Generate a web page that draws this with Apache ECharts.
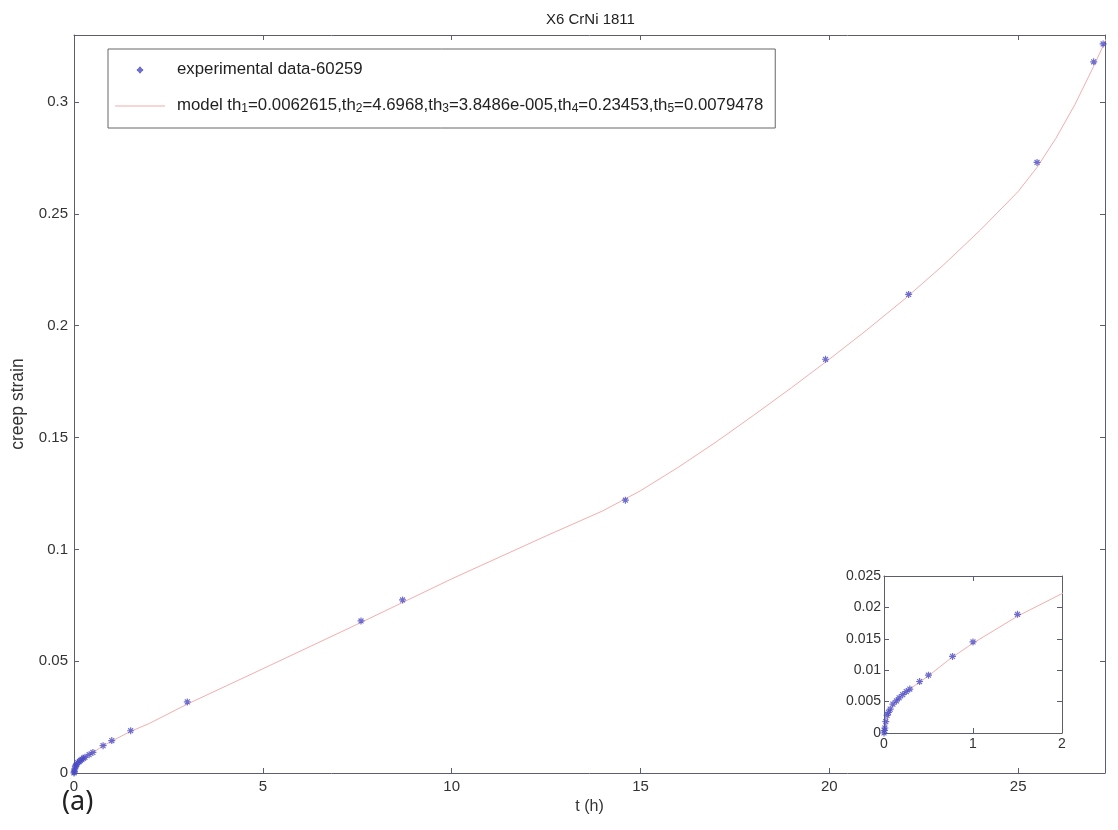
<!DOCTYPE html>
<html>
<head>
<meta charset="utf-8">
<script src="https://cdn.jsdelivr.net/npm/echarts@6/dist/echarts.min.js"></script>
<style>html,body{margin:0;padding:0;background:#fff}#c{width:1118px;height:830px}</style>
</head>
<body>
<div id="c"></div>
<script>
// experimental data
const tData = [0, 0.005, 0.01, 0.02, 0.035, 0.05, 0.07, 0.1, 0.14, 0.17, 0.21, 0.25, 0.29, 0.4, 0.5, 0.77, 1.0, 1.5, 3.0, 7.6, 8.7, 14.6, 19.9, 22.1, 25.5, 27.0, 27.25];
const strainData = [0, 0.0004, 0.0008, 0.0018, 0.0028, 0.0033, 0.0038, 0.0046, 0.0051, 0.0056, 0.0061, 0.0066, 0.0070, 0.0082, 0.0092, 0.0122, 0.0145, 0.0189, 0.0318, 0.068, 0.0774, 0.122, 0.185, 0.214, 0.273, 0.318, 0.326];
// model curve
const tModel = [0, 0.01, 0.025, 0.05, 0.1, 0.15, 0.2, 0.3, 0.4, 0.5, 0.75, 1, 1.5, 2, 3, 5, 7.5, 10, 12.5, 14, 15, 16, 17, 18, 19, 20, 21, 22, 23, 24, 25, 25.5, 26, 26.5, 27, 27.3, 27.5];
const strainModel = [0, 0.0005, 0.0015, 0.0028, 0.0044, 0.0053, 0.0060, 0.0071, 0.0081, 0.0091, 0.0119, 0.0143, 0.0186, 0.0222, 0.0308, 0.0466, 0.0665, 0.0868, 0.1060, 0.1172, 0.1262, 0.1367, 0.1480, 0.1600, 0.1723, 0.1850, 0.1982, 0.2120, 0.2268, 0.2428, 0.2600, 0.2708, 0.2838, 0.2988, 0.3160, 0.3270, 0.3345];
// axes
const mainX = {min: 0, max: 27.3, step: 5};
const mainY = {min: 0, max: 0.33, step: 0.05};
const insetX = {min: 0, max: 2, step: 1};
const insetY = {min: 0, max: 0.025, step: 0.005};
const legendNames = ['experimental data-60259', 'model'];

const pts = tData.map((t, i) => [t, strainData[i]]);
const modelPts = tModel.map((t, i) => [t, strainModel[i]]);

const axisCol = '#5a5f70';
const font = 'Liberation Sans';
const star = 'path://M0,-4L0,4M-4,0L4,0M-2.8,-2.8L2.8,2.8M-2.8,2.8L2.8,-2.8';
const legendStar = 'path://M-10,-10M10,10M0,-4.5L0,4.5M-4.5,0L4.5,0M-2.5,-2.5L2.5,2.5M-2.5,2.5L2.5,-2.5';
const blue = '#4b4bc4';
const pink = '#f4adad';

function ax(grid, r, pos, show, fs, margin, extra) {
  const isMult = Math.abs(r.max / r.step - Math.round(r.max / r.step)) < 1e-9;
  return Object.assign({
    type: 'value', gridIndex: grid, position: pos, min: r.min, max: r.max, interval: r.step,
    axisLine: {show: true, onZero: false, lineStyle: {color: axisCol, width: 1}},
    axisTick: {show: true, inside: true, length: 5, lineStyle: {color: axisCol}},
    axisLabel: {show: show, showMaxLabel: isMult, margin: margin, color: '#333', fontSize: fs, fontFamily: font},
    splitLine: {show: false}
  }, extra || {});
}

const chart = echarts.init(document.getElementById('c'));
chart.setOption({
  animation: false,
  backgroundColor: '#fff',
  title: {text: 'X6 CrNi 1811', left: 541, top: 7, textStyle: {fontSize: 15, fontWeight: 'normal', color: '#222', fontFamily: font}},
  grid: [
    {left: 74, top: 35, right: 13, bottom: 57, show: false},
    {left: 884, top: 576, width: 178, height: 157, show: true, backgroundColor: '#fff', borderWidth: 0}
  ],
  xAxis: [
    ax(0, mainX, 'bottom', true, 15, 6, {name: 't (h)', nameLocation: 'middle', nameGap: 23, nameTextStyle: {color: '#333', fontSize: 16, fontFamily: font}}),
    ax(0, mainX, 'top', false, 15, 6),
    ax(1, insetX, 'bottom', true, 14, 4),
    ax(1, insetX, 'top', false, 14, 4)
  ],
  yAxis: [
    ax(0, mainY, 'left', true, 15, 6, {name: 'creep strain', nameLocation: 'middle', nameGap: 47, nameRotate: 90, nameTextStyle: {color: '#333', fontSize: 17.5, fontFamily: font}}),
    ax(0, mainY, 'right', false, 15, 6),
    ax(1, insetY, 'left', true, 14, 3),
    ax(1, insetY, 'right', false, 14, 3)
  ],
  legend: {
    orient: 'vertical', left: 108, top: 49,
    padding: [12, 12, 13, 7], itemGap: 15, itemWidth: 50, itemHeight: 14,
    borderColor: '#666', borderWidth: 1, backgroundColor: '#fff',
    textStyle: {
      color: '#222', fontSize: 16.5, fontFamily: font,
      rich: {
        g: {width: 7, lineHeight: 18, verticalAlign: 'top'},
        n: {fontSize: 16.8, fontFamily: font, color: '#222', lineHeight: 18, verticalAlign: 'top'},
        s: {fontSize: 12, fontFamily: font, color: '#222', lineHeight: 12, verticalAlign: 'bottom', padding: [10, 0, 0, 0]}
      }
    },
    formatter: function (name) {
      if (name === legendNames[1]) {
        return '{g|}{n|model th}{s|1}{n|=0.0062615,th}{s|2}{n|=4.6968,th}{s|3}{n|=3.8486e-005,th}{s|4}{n|=0.23453,th}{s|5}{n|=0.0079478}';
      }
      return '{g|}{n|' + name + '}';
    },
    data: [
      {name: legendNames[0], icon: legendStar},
      {name: legendNames[1], icon: 'path://M0,0L50,0L50,1L0,1Z'}
    ]
  },
  series: [
    {name: legendNames[1], type: 'line', xAxisIndex: 0, yAxisIndex: 0, data: modelPts, symbol: 'none', clip: true,
     lineStyle: {color: pink, width: 1}, itemStyle: {color: pink}, z: 2},
    {name: legendNames[0], type: 'scatter', xAxisIndex: 0, yAxisIndex: 0, data: pts, symbol: star, symbolSize: 7,
     itemStyle: {color: 'rgba(0,0,0,0)', borderColor: blue, borderWidth: 1.2}, z: 3},
    {name: legendNames[1], type: 'line', xAxisIndex: 2, yAxisIndex: 2, data: modelPts, symbol: 'none', clip: true,
     lineStyle: {color: pink, width: 1}, itemStyle: {color: pink}, z: 5},
    {name: legendNames[0], type: 'scatter', xAxisIndex: 2, yAxisIndex: 2, data: pts, symbol: star, symbolSize: 7, clip: true,
     itemStyle: {color: 'rgba(0,0,0,0)', borderColor: blue, borderWidth: 1.2}, z: 6}
  ],
  graphic: [
    {type: 'text', left: 62, top: 789, style: {text: '(a)', fontSize: 27, fontFamily: 'Noto Sans', fill: '#222'}}
  ]
});
</script>
</body>
</html>
